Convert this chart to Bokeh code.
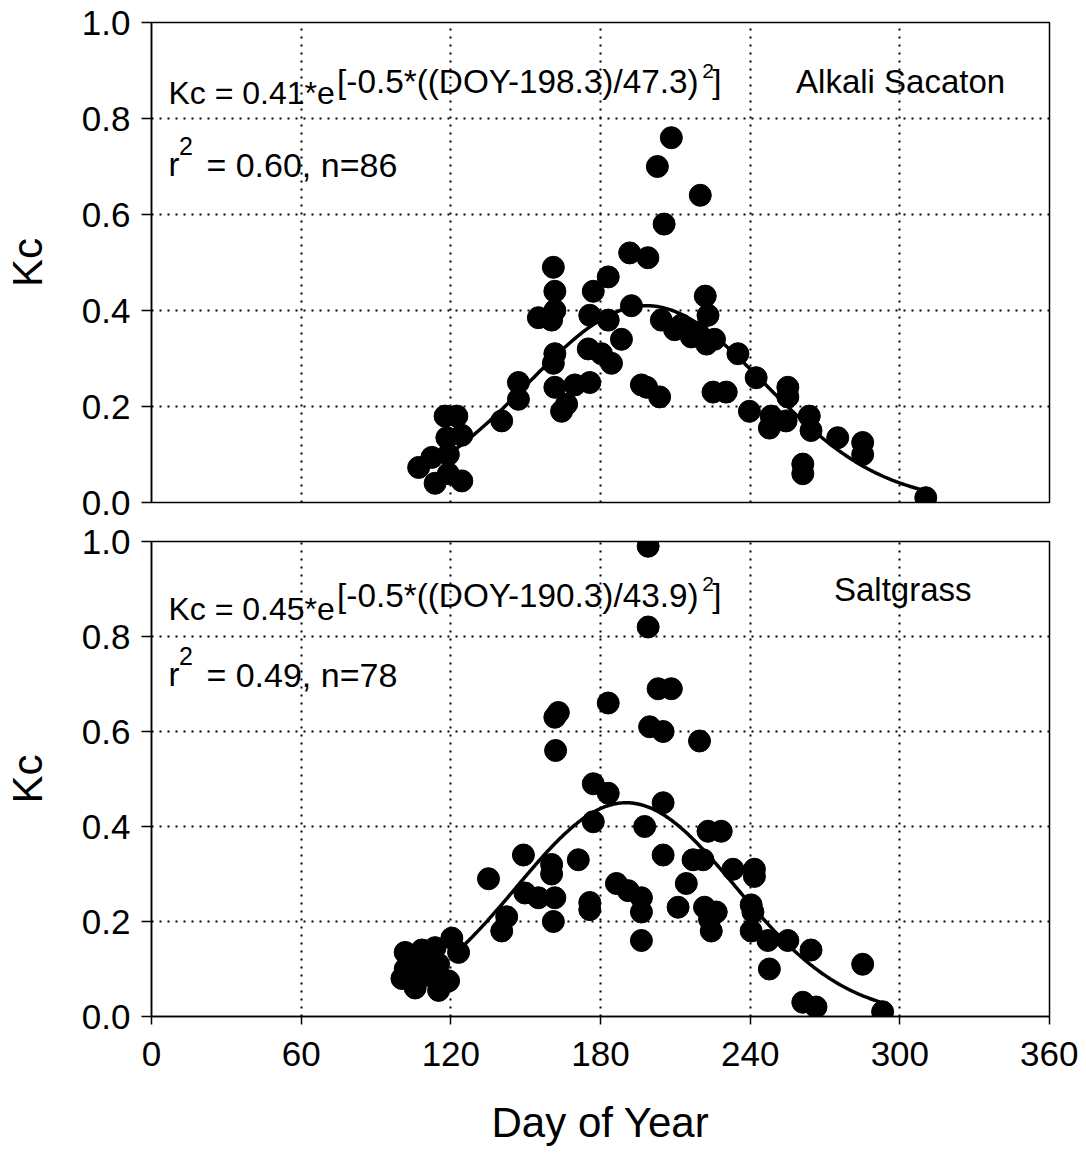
from bokeh.plotting import figure
from bokeh.models import FixedTicker, Label, PrintfTickFormatter
from bokeh.layouts import column
from bokeh.embed import file_html
from bokeh.resources import INLINE
import numpy as np

FONT = "Liberation Sans"

# ---------------- data ----------------
# Alkali Sacaton (top panel)
as_doy = [208.4, 202.8, 220.0, 205.5, 191.7, 199.0, 161.1, 183.1, 161.7, 177.1,
          192.4, 222.0, 161.7, 155.1, 160.4, 175.7, 183.1, 204.4, 209.7, 216.4,
          161.7, 175.1, 180.4, 188.4, 184.4, 161.1, 147.1, 161.7, 175.7, 169.7,
          166.4, 196.4, 203.7, 225.1, 230.4, 147.1, 140.4, 117.7, 122.4, 124.4,
          118.4, 107.1, 112.4, 119.0, 113.7, 124.4, 119.0, 164.4, 223.1, 225.7,
          235.1, 242.4, 255.1, 255.1, 239.7, 248.4, 247.7, 254.4, 263.7, 264.4,
          275.1, 285.1, 285.1, 261.1, 261.1, 310.4, 212.5, 219.0, 222.5, 198.5]
as_kc = [0.76, 0.70, 0.64, 0.58, 0.52, 0.51, 0.49, 0.47, 0.44, 0.44,
         0.41, 0.43, 0.40, 0.385, 0.38, 0.39, 0.38, 0.38, 0.36, 0.345,
         0.31, 0.32, 0.31, 0.34, 0.29, 0.29, 0.25, 0.24, 0.25, 0.245,
         0.205, 0.245, 0.22, 0.23, 0.23, 0.215, 0.17, 0.18, 0.18, 0.14,
         0.135, 0.073, 0.094, 0.10, 0.04, 0.045, 0.06, 0.19, 0.39, 0.34,
         0.31, 0.26, 0.24, 0.22, 0.19, 0.18, 0.155, 0.17, 0.18, 0.15,
         0.135, 0.125, 0.10, 0.08, 0.06, 0.01, 0.37, 0.355, 0.33, 0.24]

# Saltgrass (bottom panel)
sg_doy = [199.1, 199.1, 203.1, 208.4, 163.1, 161.7, 183.1, 199.7, 205.1, 219.7,
          162.0, 177.1, 183.1, 205.1, 177.1, 197.7, 223.1, 228.4, 149.1, 171.1,
          205.1, 160.4, 160.4, 135.1, 217.1, 221.1, 214.4, 186.4, 191.1, 149.7,
          155.1, 161.7, 175.7, 196.4, 196.4, 211.1, 221.7, 226.4, 142.4, 140.4,
          161.1, 175.7, 196.4, 224.4, 120.4, 113.7, 108.4, 101.7, 123.1, 101.7,
          107.1, 115.1, 100.4, 107.1, 105.7, 115.1, 112.4, 119.1, 233.1, 241.7,
          241.7, 240.4, 241.1, 240.4, 247.1, 255.1, 264.4, 247.7, 285.1, 261.1,
          266.4, 293.1, 223.7]
sg_kc = [0.99, 0.82, 0.69, 0.69, 0.64, 0.63, 0.66, 0.61, 0.60, 0.58,
         0.56, 0.49, 0.47, 0.45, 0.41, 0.40, 0.39, 0.39, 0.34, 0.33,
         0.34, 0.32, 0.30, 0.29, 0.33, 0.33, 0.28, 0.28, 0.265, 0.26,
         0.25, 0.25, 0.24, 0.25, 0.22, 0.23, 0.23, 0.22, 0.21, 0.18,
         0.20, 0.225, 0.16, 0.18, 0.165, 0.145, 0.14, 0.135, 0.135, 0.10,
         0.12, 0.11, 0.08, 0.08, 0.06, 0.055, 0.085, 0.075, 0.31, 0.31,
         0.295, 0.235, 0.22, 0.18, 0.16, 0.16, 0.14, 0.10, 0.11, 0.03,
         0.02, 0.01, 0.205]

# fitted Gaussian curves (coefficients printed on the chart)
as_fit_amp, as_fit_center, as_fit_width = 0.41, 198.3, 47.3
as_fit_range = [107, 310]
sg_fit_amp, sg_fit_center, sg_fit_width = 0.45, 190.3, 43.9
sg_fit_range = [125.5, 293]

x_ticks = [0, 60, 120, 180, 240, 300, 360]
x_grid = [60, 120, 180, 240, 300]
y_ticks = [0.0, 0.2, 0.4, 0.6, 0.8, 1.0]
y_grid = [0.2, 0.4, 0.6, 0.8]


def gauss_curve(amp, center, width, rng):
    d = np.linspace(rng[0], rng[1], 300)
    return d, amp * np.exp(-0.5 * ((d - center) / width) ** 2)


def make_panel(doy, kc, amp, center, width, rng, height, b_top, b_bottom, show_x):
    p = figure(width=1078, height=height, x_range=(0, 360), y_range=(0, 1),
               output_backend="svg", toolbar_location=None,
               min_border_left=149, min_border_right=29,
               min_border_top=b_top, min_border_bottom=b_bottom,
               background_fill_color="white", border_fill_color="white")
    p.outline_line_color = "black"
    p.outline_line_width = 1.5
    p.outline_line_alpha = 1.0

    for g, t in ((p.xgrid, x_grid), (p.ygrid, y_grid)):
        g.ticker = FixedTicker(ticks=t)
        g.grid_line_color = "black"
        g.grid_line_width = 2
        g.grid_line_dash = "2 6"

    cx, cy = gauss_curve(amp, center, width, rng)
    p.scatter(doy, kc, size=22, fill_color="black", line_color="black")
    p.line(cx, cy, line_color="black", line_width=3.5)

    ya = p.yaxis[0]
    ya.ticker = FixedTicker(ticks=y_ticks)
    ya.formatter = PrintfTickFormatter(format="%.1f")
    ya.major_tick_out = 10
    ya.major_tick_in = 0
    ya.minor_tick_out = 0
    ya.minor_tick_in = 0
    ya.axis_line_width = 1.5
    ya.major_tick_line_width = 1.5
    ya.major_label_text_font = FONT
    ya.major_label_text_font_size = "35px"
    ya.major_label_text_color = "black"
    ya.major_label_standoff = 11
    ya.axis_label = "Kc"
    ya.axis_label_text_font = FONT
    ya.axis_label_text_font_size = "42px"
    ya.axis_label_text_font_style = "normal"
    ya.axis_label_text_color = "black"
    ya.axis_label_standoff = 28

    xa = p.xaxis[0]
    if show_x:
        xa.ticker = FixedTicker(ticks=x_ticks)
        xa.major_tick_out = 8
        xa.major_tick_in = 0
        xa.minor_tick_out = 0
        xa.minor_tick_in = 0
        xa.axis_line_width = 1.5
        xa.major_tick_line_width = 1.5
        xa.major_label_text_font = FONT
        xa.major_label_text_font_size = "35px"
        xa.major_label_text_color = "black"
        xa.major_label_standoff = 17
        xa.axis_label = "Day of Year"
        xa.axis_label_text_font = FONT
        xa.axis_label_text_font_size = "42px"
        xa.axis_label_text_font_style = "normal"
        xa.axis_label_text_color = "black"
        xa.axis_label_standoff = 30
    else:
        xa.visible = False
    return p


def add_text(p, x, y, text, size):
    p.add_layout(Label(x=x, y=y, text=text, text_font=FONT, text_font_size=size,
                       text_color="black", text_align="left",
                       text_baseline="alphabetic"))


p1 = make_panel(as_doy, as_kc, as_fit_amp, as_fit_center, as_fit_width, as_fit_range,
                height=520, b_top=22, b_bottom=18, show_x=False)
add_text(p1, 6.8, 0.853, "Kc = 0.41*e", "32px")
add_text(p1, 74.4, 0.878, "[-0.5*((DOY-198.3)/47.3)", "33.3px")
add_text(p1, 220.8, 0.899, "2", "21px")
add_text(p1, 224.8, 0.878, "]", "33px")
add_text(p1, 258.4, 0.877, "Alkali Sacaton", "33px")
add_text(p1, 6.8, 0.704, "r", "33px")
add_text(p1, 11.0, 0.742, "2", "25px")
add_text(p1, 22.0, 0.704, "= 0.60, n=86", "34px")

p2 = make_panel(sg_doy, sg_kc, sg_fit_amp, sg_fit_center, sg_fit_width, sg_fit_range,
                height=632, b_top=21, b_bottom=136, show_x=True)
add_text(p2, 6.8, 0.858, "Kc = 0.45*e", "32px")
add_text(p2, 74.4, 0.886, "[-0.5*((DOY-190.3)/43.9)", "33.3px")
add_text(p2, 220.8, 0.910, "2", "21px")
add_text(p2, 224.8, 0.886, "]", "33px")
add_text(p2, 273.6, 0.898, "Saltgrass", "33px")
add_text(p2, 6.8, 0.719, "r", "33px")
add_text(p2, 11.0, 0.758, "2", "25px")
add_text(p2, 22.0, 0.719, "= 0.49, n=78", "34px")

layout = column(p1, p2)
open("out.html", "w").write(file_html(layout, INLINE))
